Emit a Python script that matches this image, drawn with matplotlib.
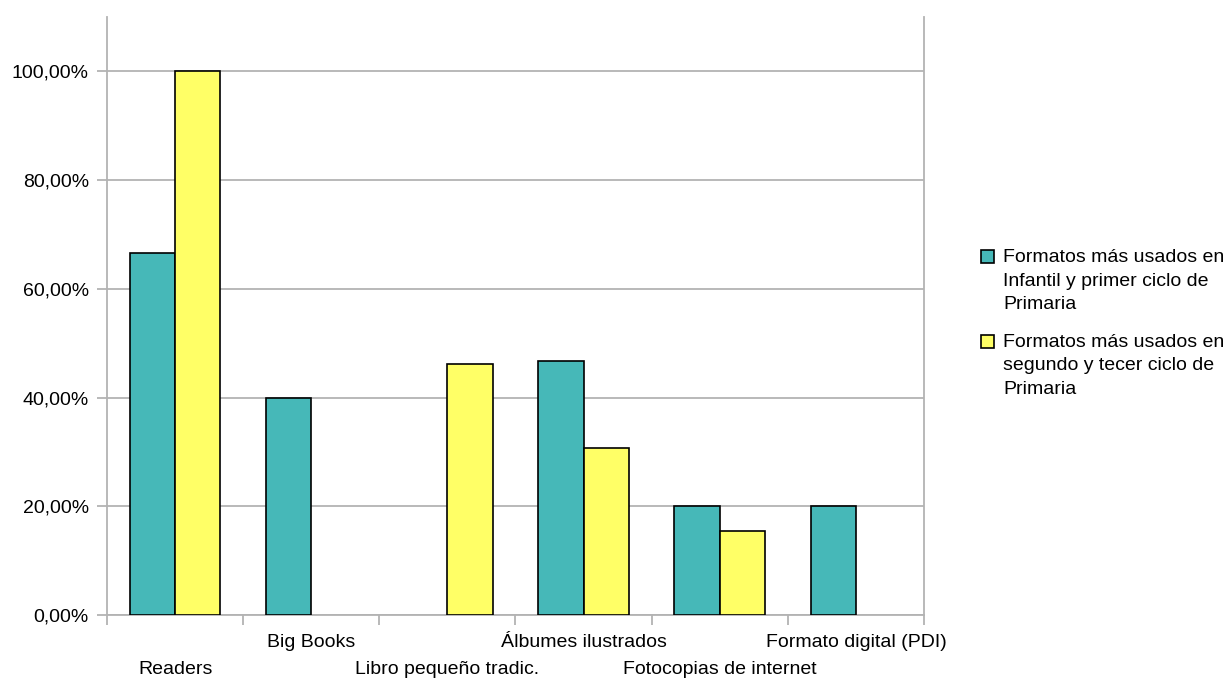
import matplotlib.pyplot as plt
import matplotlib.transforms as mtransforms
from matplotlib.patches import Rectangle
import numpy as np

plt.rcParams['font.family'] = ['Liberation Sans', 'DejaVu Sans']

categorias = ['Readers', 'Big Books', 'Libro pequeño tradic.', 'Álbumes ilustrados',
              'Fotocopias de internet', 'Formato digital (PDI)']
infantil = [66.67, 40.0, 0.0, 46.67, 20.0, 20.0]
segundo_tercero = [100.0, 0.0, 46.15, 30.77, 15.38, 0.0]
series_labels = ['Formatos más usados en\nInfantil y primer ciclo de\nPrimaria',
                 'Formatos más usados en\nsegundo y tecer ciclo de\nPrimaria']
colores = ['#46B8B8', '#FFFF66']
y_ticks = [0, 20, 40, 60, 80, 100]

grid_color = '#b3b3b3'
fs = 14

fig = plt.figure(figsize=(12.24, 6.78), dpi=100)
ax = fig.add_axes([0.0874, 0.0929, 0.6675, 0.882])

x = np.arange(len(categorias)) + 0.5
w = 1 / 3
for serie, off, color in zip([infantil, segundo_tercero], [-w / 2, w / 2], colores):
    bars = ax.bar(x + off, serie, width=w, color=color, edgecolor='black',
                  linewidth=1.2, zorder=3)
    for b, v in zip(bars, serie):
        if v == 0:
            b.set_visible(False)

ax.set_xlim(0, len(categorias))
ax.set_ylim(0, 110)

ax.set_yticks(y_ticks)
ax.set_yticklabels([f'{v:.2f}'.replace('.', ',') + '%' for v in y_ticks], fontsize=fs)
ax.yaxis.grid(True, color=grid_color, linewidth=1.3, zorder=0)
ax.tick_params(axis='y', length=7, width=1.3, color=grid_color, pad=6)

# category names centred, tick marks on the boundaries
ax.set_xticks(x)
ax.set_xticklabels(categorias, fontsize=fs)
ax.tick_params(axis='x', which='major', length=0, pad=14)
ax.set_xticks(np.arange(len(categorias) + 1), minor=True)
ax.tick_params(axis='x', which='minor', length=7, width=1.3, color=grid_color)

# stagger the labels: every other one goes on a second row
shift = mtransforms.ScaledTranslation(0, -27 / 100, fig.dpi_scale_trans)
for i, lbl in enumerate(ax.get_xticklabels()):
    if i % 2 == 0:
        lbl.set_transform(lbl.get_transform() + shift)

for side in ['left', 'bottom', 'right']:
    ax.spines[side].set_color(grid_color)
    ax.spines[side].set_linewidth(1.3)
ax.spines['top'].set_visible(False)

# legend with the swatch next to the first line of each entry
W, H = 1224, 678
for i, (lab, col) in enumerate(zip(series_labels, colores)):
    top = 250 + i * 85
    fig.patches.append(Rectangle((981 / W, 1 - (top + 13) / H), 13 / W, 13 / H,
                                 transform=fig.transFigure, facecolor=col,
                                 edgecolor='black', linewidth=1.2))
    fig.text(1003 / W, 1 - (top - 1) / H, lab, fontsize=fs, va='top', ha='left',
             linespacing=1.5)

fig.savefig('out.png', dpi=100)
